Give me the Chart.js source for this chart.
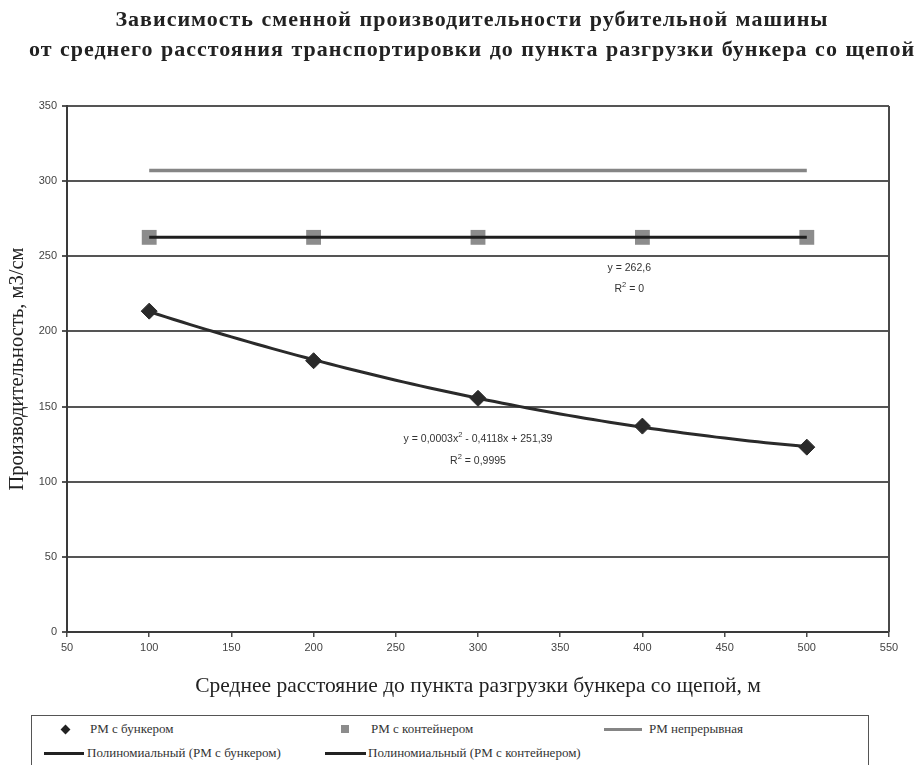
<!DOCTYPE html>
<html>
<head>
<meta charset="utf-8">
<script src="https://cdn.jsdelivr.net/npm/chart.js@4.4.1/dist/chart.umd.min.js"></script>
<style>
  html, body { margin: 0; padding: 0; background: #fff; }
  #wrap { position: relative; width: 916px; height: 765px; overflow: hidden; background: #fff; }
  #title { position: absolute; left: 28px; width: 888px; top: 4px; text-align: center;
           font-family: "Liberation Serif", "DejaVu Serif", serif; font-weight: bold; font-size: 22px;
           letter-spacing: 1px; word-spacing: 1px; line-height: 30px; color: #222; }
  #chart { position: absolute; left: 0; top: 0; }
  #legend { position: absolute; left: 31px; top: 715px; width: 838px; height: 52px;
            border: 1.5px solid #555; box-sizing: border-box;
            font-family: "Liberation Serif", "DejaVu Serif", serif; font-size: 13px; color: #333; }
  .item { position: absolute; white-space: nowrap; line-height: 14px; }
  .mk { position: absolute; }
</style>
</head>
<body>
<div id="wrap">
  <canvas id="chart" width="916" height="712"></canvas>
  <div id="title">Зависимость сменной производительности рубительной машины<br>от среднего расстояния транспортировки до пункта разгрузки бункера со щепой</div>
  <div id="legend"></div>
</div>
<script>
// Distances to the unloading point, m
const distances = [100, 200, 300, 400, 500];
// Shift output, m3 per shift
const bunkerOutput = [213.5, 180.5, 155.5, 137, 123];
const containerOutput = [262.6, 262.6, 262.6, 262.6, 262.6];
const continuousOutput = [307, 307, 307, 307, 307];

const seriesNames = ['РМ с бункером', 'РМ с контейнером', 'РМ непрерывная',
                     'Полиномиальный (РМ с бункером)', 'Полиномиальный (РМ с контейнером)'];
const containerTrendText = ['y = 262,6', 'R2 = 0'];
const bunkerTrendText = ['y = 0,0003x2 - 0,4118x + 251,39', 'R2 = 0,9995'];

const xTitle = 'Среднее расстояние до пункта разгрузки бункера со щепой, м';
const yTitle = 'Производительность, м3/см';

// Least-squares quadratic trend for the bunker machine
function quadFit(xs, ys) {
  const n = xs.length;
  let s = [0, 0, 0, 0, 0], t = [0, 0, 0];
  for (let i = 0; i < n; i++) {
    let p = 1;
    for (let k = 0; k < 5; k++) { s[k] += p; if (k < 3) t[k] += p * ys[i]; p *= xs[i]; }
  }
  const A = [[s[0], s[1], s[2], t[0]], [s[1], s[2], s[3], t[1]], [s[2], s[3], s[4], t[2]]];
  for (let c = 0; c < 3; c++) {
    for (let r = c + 1; r < 3; r++) {
      const f = A[r][c] / A[c][c];
      for (let k = c; k < 4; k++) A[r][k] -= f * A[c][k];
    }
  }
  const sol = [0, 0, 0];
  for (let r = 2; r >= 0; r--) {
    let v = A[r][3];
    for (let k = r + 1; k < 3; k++) v -= A[r][k] * sol[k];
    sol[r] = v / A[r][r];
  }
  return sol; // c0, c1, c2
}
const coef = quadFit(distances, bunkerOutput);
const bunkerTrend = [];
for (let x = distances[0]; x <= distances[distances.length - 1]; x += 5) {
  bunkerTrend.push({ x, y: coef[0] + coef[1] * x + coef[2] * x * x });
}
const containerMean = containerOutput.reduce((a, b) => a + b, 0) / containerOutput.length;
const containerTrend = [
  { x: distances[0], y: containerMean },
  { x: distances[distances.length - 1], y: containerMean }
];

const pts = (xs, ys) => xs.map((x, i) => ({ x, y: ys[i] }));

// Frame line on the right and the trend equations
const decorations = {
  id: 'decorations',
  afterDatasetsDraw(chart) {
    const { ctx, chartArea, scales } = chart;
    ctx.save();
    ctx.strokeStyle = '#4a4a4a';
    ctx.lineWidth = 2;
    ctx.beginPath();
    ctx.moveTo(chartArea.right, chartArea.top);
    ctx.lineTo(chartArea.right, chartArea.bottom);
    ctx.stroke();

    const drawSup = (text, cx, cy) => {
      // "2" following "x" or "R" is drawn as a superscript
      const parts = [];
      let buf = '';
      for (let i = 0; i < text.length; i++) {
        const ch = text[i];
        if (ch === '2' && i > 0 && (text[i - 1] === 'x' || text[i - 1] === 'R')) {
          parts.push({ t: buf, sup: false }); buf = '';
          parts.push({ t: '2', sup: true });
        } else buf += ch;
      }
      parts.push({ t: buf, sup: false });
      const nf = '10.5px "Liberation Sans", Arial, sans-serif';
      const sf = '7.5px "Liberation Sans", Arial, sans-serif';
      let w = 0;
      parts.forEach(p => { ctx.font = p.sup ? sf : nf; w += ctx.measureText(p.t).width; });
      let x = cx - w / 2;
      ctx.fillStyle = '#333';
      ctx.textBaseline = 'middle';
      ctx.textAlign = 'left';
      parts.forEach(p => {
        ctx.font = p.sup ? sf : nf;
        ctx.fillText(p.t, x, p.sup ? cy - 4 : cy);
        x += ctx.measureText(p.t).width;
      });
    };
    const xs = scales.x, ys = scales.y;
    drawSup(containerTrendText[0], xs.getPixelForValue(392), ys.getPixelForValue(242.2));
    drawSup(containerTrendText[1], xs.getPixelForValue(392), ys.getPixelForValue(228.4));
    drawSup(bunkerTrendText[0], xs.getPixelForValue(300), ys.getPixelForValue(128.4));
    drawSup(bunkerTrendText[1], xs.getPixelForValue(300), ys.getPixelForValue(113.8));
    ctx.restore();
  }
};

const canvasH = 712;
new Chart(document.getElementById('chart'), {
  type: 'scatter',
  data: {
    datasets: [
      { label: seriesNames[3], data: bunkerTrend, showLine: true, borderColor: '#2a2a2a',
        borderWidth: 3, pointRadius: 0, tension: 0, order: 1 },
      { label: seriesNames[4], data: containerTrend, showLine: true, borderColor: '#1e1e1e',
        borderWidth: 3, pointRadius: 0, order: 0 },
      { label: seriesNames[0], data: pts(distances, bunkerOutput), pointStyle: 'rectRot',
        pointRadius: 8, pointHoverRadius: 8, backgroundColor: '#2a2a2a', borderColor: '#2a2a2a',
        borderWidth: 1, order: 2 },
      { label: seriesNames[1], data: pts(distances, containerOutput), pointStyle: 'rect',
        pointRadius: 10.5, pointHoverRadius: 10.5, backgroundColor: '#8c8c8c', borderColor: '#8c8c8c',
        borderWidth: 0, order: 3 },
      { label: seriesNames[2], data: pts(distances, continuousOutput), showLine: true,
        borderColor: '#858585', borderWidth: 3.5, pointRadius: 0, order: 4 }
    ]
  },
  options: {
    responsive: false,
    animation: false,
    events: [],
    layout: { padding: { top: 106, right: 27, left: 0, bottom: 0 } },
    plugins: { legend: { display: false }, title: { display: false }, tooltip: { enabled: false } },
    scales: {
      x: {
        type: 'linear', min: 50, max: 550,
        ticks: { stepSize: 50, color: '#444', padding: 4,
                 font: { family: '"Liberation Sans", Arial, sans-serif', size: 11 } },
        grid: { drawOnChartArea: false, drawTicks: true, tickLength: 5, color: '#4a4a4a', lineWidth: 1.5 },
        border: { color: '#3a3a3a', width: 2 },
        title: { display: true, text: xTitle, color: '#222', padding: { top: 0, bottom: 13 },
                 font: { family: '"Liberation Serif", "DejaVu Serif", serif', size: 21.5 } },
        afterFit(scale) { scale.height = canvasH - 632; }
      },
      y: {
        type: 'linear', min: 0, max: 350,
        ticks: { stepSize: 50, color: '#444', padding: 5,
                 font: { family: '"Liberation Sans", Arial, sans-serif', size: 11 } },
        grid: { drawTicks: true, tickLength: 5, color: '#555', lineWidth: 2 },
        border: { color: '#3a3a3a', width: 2 },
        title: { display: true, text: yTitle, color: '#222', padding: { top: 5, bottom: 0 },
                 font: { family: '"Liberation Serif", "DejaVu Serif", serif', size: 20.5 } },
        afterFit(scale) { scale.width = 67; }
      }
    }
  },
  plugins: [decorations]
});

// Legend box below the plot
const legendItems = [
  { name: seriesNames[0], kind: 'diamond', mx: 33, tx: 58, y: 13 },
  { name: seriesNames[1], kind: 'square', mx: 313, tx: 339, y: 13 },
  { name: seriesNames[2], kind: 'line', color: '#858585', mx: 572, w: 38, tx: 617, y: 13 },
  { name: seriesNames[3], kind: 'line', color: '#222', mx: 12, w: 40, tx: 55, y: 37 },
  { name: seriesNames[4], kind: 'line', color: '#222', mx: 293, w: 41, tx: 336, y: 37 }
];
const legend = document.getElementById('legend');
legendItems.forEach(it => {
  const m = document.createElement('div');
  m.className = 'mk';
  if (it.kind === 'diamond') {
    Object.assign(m.style, { left: (it.mx - 3.5) + 'px', top: (it.y - 3.5) + 'px', width: '7px', height: '7px',
      background: '#222', transform: 'rotate(45deg)' });
  } else if (it.kind === 'square') {
    Object.assign(m.style, { left: (it.mx - 4) + 'px', top: (it.y - 4) + 'px', width: '8px', height: '8px',
      background: '#8c8c8c' });
  } else {
    Object.assign(m.style, { left: it.mx + 'px', top: (it.y - 1.5) + 'px', width: it.w + 'px', height: '3px',
      background: it.color });
  }
  legend.appendChild(m);
  const t = document.createElement('div');
  t.className = 'item';
  t.textContent = it.name;
  t.style.left = it.tx + 'px';
  t.style.top = (it.y - 7) + 'px';
  legend.appendChild(t);
});
</script>
</body>
</html>
